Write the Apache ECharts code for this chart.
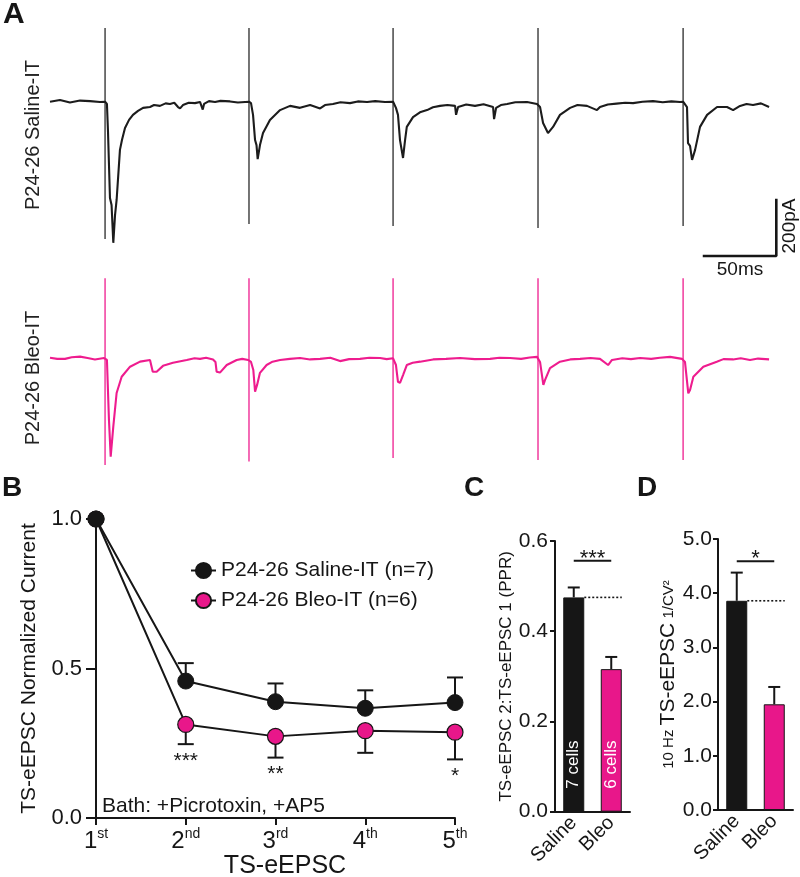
<!DOCTYPE html>
<html><head><meta charset="utf-8">
<script src="https://cdn.jsdelivr.net/npm/echarts/dist/echarts.min.js"></script>
<style>html,body{margin:0;padding:0;background:#fff}#c{width:800px;height:877px}</style>
</head><body><div id="c"></div>
<script>
// ---------------- DATA ----------------
// Panel A: traces, time in ms, current in pA (0 = baseline)
const stimTimes = [38.1, 137.7, 237.4, 337.7, 438.1];
const salineArtTop = [263, 263, 263, 263, 263];
const salineArtBottom = [-490, -437, -444, -451, -444];
const bleoArtTop = [286, 286, 286, 286, 286];
const bleoArtBottom = [-381, -369, -356, -363, -363];
const salineTrace = [
[0,0],[6.9,6],[13.8,-3],[20.8,4],[27.7,2],[34.6,-1],[38.1,0],
[39.4,-8],[40.1,-101],[41.5,-344],[42.6,-369],[43.8,-504],[45,-405],[46.1,-351],[48.4,-172],[49.8,-137],[51.9,-94],[54.7,-65],[57.4,-47],[60.9,-33],[64.4,-22],[69.2,-19],[72,-12],[76.1,-15],[80,-6],[83,-8],[86,-4],[88.6,-19],[90,-24],[92,-12],[96,-4],[100.3,-5],[103.8,-1],[105.7,-28],[106.6,-8],[110,2],[114.2,-1],[118,3],[124.6,1],[130,-3],[135,-1],[137.7,0],
[139.1,-5],[140.5,-47],[141.9,-137],[142.9,-155],[143.7,-205],[145.3,-155],[147.4,-112],[152.2,-65],[159.2,-30],[166.1,-15],[173,-22],[180,-12],[186.9,-24],[190.3,-12],[195.8,-8],[201,-2],[207.6,-5],[213,1],[219.4,-1],[225,2],[231.8,-1],[237.4,0],
[239.4,-22],[240.8,-47],[242.2,-137],[244.3,-201],[245.7,-137],[246.9,-90],[251.2,-55],[256,-38],[260.9,-30],[265,-20],[269.9,-15],[275,-12],[280.3,-15],[281,-47],[282.4,-19],[288,-10],[294.1,-15],[300,-9],[306.6,-19],[307.3,-62],[308.7,-22],[312,-12],[316.3,-8],[322,-2],[330.1,-1],[337,-8],
[339.1,-19],[341.2,-76],[344.6,-112],[348.1,-90],[352.9,-47],[359.9,-22],[365,-12],[371.6,-15],[378.5,-30],[380.6,-19],[386,-10],[392,-7],[398,-4],[403.5,-5],[410,0],[417.3,2],[424,-2],[430,1],[436,-1],[438.1,0],
[440.8,-19],[441.5,-148],[442.9,-158],[444.3,-208],[446.4,-172],[449.8,-90],[454.7,-47],[461.6,-19],[468.5,-19],[472.7,-30],[477.5,-15],[482,-8],[486.5,-12],[492,-6],[497.6,-19]
];
const bleoTrace = [
[0,2],[5,-2],[10.4,-2],[15,4],[20.8,6],[26,1],[31.1,-4],[37.4,1],[38.1,0],
[39.4,-6],[40.8,-220],[42,-351],[43.8,-244],[46.1,-124],[49.6,-66],[55.4,-30],[62.3,-12],[69.2,-6],[71.1,-48],[73.8,-48],[78.2,-27],[85.1,-16],[94.6,-6],[100,0],[103.8,-2],[108,2],[112.8,-4],[114.5,-13],[115.3,-48],[117.6,-51],[122.3,-24],[129.2,-6],[133,-2],[137.2,-6],
[139.1,-13],[140.7,-42],[141.9,-119],[143.3,-95],[145.3,-52],[149.9,-24],[154,-12],[159.2,-6],[166,-2],[173,1],[180,-4],[186.9,-2],[194,2],[200.7,-10],[207,-3],[214.5,-2],[221,2],[228.4,1],[233,-3],[237.4,0],
[239.4,-24],[240.8,-84],[242.2,-88],[244.3,-60],[246.9,-24],[251,-16],[256.1,-12],[265.1,-4],[274,-2],[283.7,1],[294,-3],[304.5,-2],[311,2],[318.3,1],[326,-2],[332,3],[337,5],
[339.1,-13],[341.4,-95],[342.6,-77],[346,-35],[352.9,-12],[360,-4],[366.8,-2],[374,1],[380.6,-2],[386.2,-24],[388.9,-6],[396,0],[402,-3],[408.3,1],[416,-2],[422,2],[429.1,5],[437.4,-2],
[439.4,-13],[441.7,-125],[442.9,-113],[445.2,-66],[452.1,-30],[461.4,-12],[466,-3],[472.7,-4],[478,0],[484.4,-6],[490,-1],[497.6,-4]
];
const scaleBarMs = 50;
const scaleBarPA = 200;
const scaleBarOrigin = [452.6, -551];

// Panel B
const bOrdinals = ['1', '2', '3', '4', '5'];
const bSuffixes = ['st', 'nd', 'rd', 'th', 'th'];
const salineMean = [1.0, 0.458, 0.389, 0.367, 0.386];
const salineSem  = [0, 0.06, 0.061, 0.06, 0.084];
const bleoMean   = [1.0, 0.313, 0.273, 0.292, 0.287];
const bleoSem    = [0, 0.066, 0.071, 0.074, 0.091];
const bSig = ['', '***', '**', '', '*'];

// Panel C
const groups = ['Saline', 'Bleo'];
const cMean = [0.475, 0.316];
const cSem = [0.022, 0.027];
const cCells = ['7 cells', '6 cells'];
const cSigLevel = 0.556, cSigText = '***';

// Panel D
const dMean = [3.86, 1.95];
const dSem = [0.52, 0.32];
const dSigLevel = 4.59, dSigText = '*';

// ---------------- STYLE ----------------
const FONT = "'Liberation Sans', Arial, Helvetica, sans-serif";
const INK = '#161616';
const PINK = '#e8178a';
const PINK_TRACE = '#ee1c8e';

const chart = echarts.init(document.getElementById('c'), null, {renderer: 'canvas'});

function errBar(capHalf, color) {
  return function (params, api) {
    const x = api.value(0), m = api.value(1), e = api.value(2);
    const p0 = api.coord([x, m]), p1 = api.coord([x, e]);
    return {type: 'group', children: [
      {type: 'line', shape: {x1: p0[0], y1: p0[1], x2: p1[0], y2: p1[1]}, style: {stroke: color, lineWidth: 2}},
      {type: 'line', shape: {x1: p1[0] - capHalf, y1: p1[1], x2: p1[0] + capHalf, y2: p1[1]}, style: {stroke: color, lineWidth: 2}}
    ]};
  };
}
function artifact(color) {
  return function (params, api) {
    const a = api.coord([api.value(0), api.value(1)]);
    const b = api.coord([api.value(0), api.value(2)]);
    return {type: 'line', shape: {x1: a[0], y1: a[1], x2: b[0], y2: b[1]}, style: {stroke: color, lineWidth: 1.3}};
  };
}
function sigBar(text) {
  return function (params, api) {
    const a = api.coord([0, api.value(1)]);
    const b = api.coord([1, api.value(1)]);
    return {type: 'group', children: [
      {type: 'line', shape: {x1: a[0], y1: a[1], x2: b[0], y2: b[1]}, style: {stroke: INK, lineWidth: 2}},
      {type: 'text', x: (a[0] + b[0]) / 2, y: a[1] - 2, style: {text: text, fontSize: 22, fontFamily: FONT, fill: INK, textAlign: 'center', textVerticalAlign: 'middle'}}
    ]};
  };
}
function dotted(barW) {
  return function (params, api) {
    const a = api.coord([0, api.value(1)]);
    const b = api.coord([1, api.value(1)]);
    return {type: 'line', shape: {x1: a[0] + barW / 2, y1: a[1], x2: b[0] + barW / 2, y2: b[1]}, style: {stroke: INK, lineWidth: 1.6, lineDash: [2, 2]}};
  };
}

const hiddenAxis = (gi, min, max) => ({gridIndex: gi, type: 'value', min: min, max: max, show: false});
const oneDec = v => v.toFixed(1);

const starData = [], starText = [];
bSig.forEach((s, i) => { if (s) { starData.push([i + 1, bleoMean[i] - bleoSem[i]]); starText.push(s); } });

const option = {
  animation: false,
  textStyle: {fontFamily: FONT, color: INK},
  grid: [
    {left: 50, top: 23.3, width: 737, height: 235.2, outerBoundsMode: 'none'},
    {left: 50, top: 279.9, width: 737, height: 235.2, outerBoundsMode: 'none'},
    {left: 96, top: 519, width: 359, height: 299, outerBoundsMode: 'none'},
    {left: 555, top: 541, width: 75, height: 270.7, outerBoundsMode: 'none'},
    {left: 718, top: 539, width: 75, height: 271, outerBoundsMode: 'none'}
  ],
  xAxis: [
    hiddenAxis(0, 0, 510),
    hiddenAxis(1, 0, 510),
    {gridIndex: 2, type: 'value', min: 1, max: 5, interval: 1,
     axisLine: {show: true, onZero: false, lineStyle: {color: INK, width: 2}},
     axisTick: {show: true, length: 7, lineStyle: {color: INK, width: 2}},
     splitLine: {show: false},
     axisLabel: {margin: 9, formatter: v => '{b|' + bOrdinals[v - 1] + '}{s|' + bSuffixes[v - 1] + '}',
       rich: {b: {fontSize: 24, color: INK, fontFamily: FONT, lineHeight: 28},
              s: {fontSize: 14, color: INK, fontFamily: FONT, verticalAlign: 'top', lineHeight: 16}}},
     name: 'TS-eEPSC', nameLocation: 'middle', nameGap: 36,
     nameTextStyle: {fontSize: 25, color: INK, fontFamily: FONT, padding: [0, 0, 0, 19]}},
    {gridIndex: 3, type: 'category', data: groups,
     axisLine: {show: true, onZero: false, lineStyle: {color: INK, width: 2}},
     axisTick: {show: false},
     axisLabel: {rotate: 45, fontSize: 20, color: INK, margin: 8, interval: 0}},
    {gridIndex: 4, type: 'category', data: groups,
     axisLine: {show: true, onZero: false, lineStyle: {color: INK, width: 2}},
     axisTick: {show: false},
     axisLabel: {rotate: 45, fontSize: 20, color: INK, margin: 8, interval: 0}}
  ],
  yAxis: [
    hiddenAxis(0, -560, 280),
    hiddenAxis(1, -560, 280),
    {gridIndex: 2, type: 'value', min: 0, max: 1, interval: 0.5,
     axisLine: {show: true, onZero: false, lineStyle: {color: INK, width: 2}},
     axisTick: {show: true, length: 10, lineStyle: {color: INK, width: 2}},
     splitLine: {show: false},
     axisLabel: {fontSize: 22, color: INK, margin: 14, formatter: oneDec},
     name: 'TS-eEPSC Normalized Current', nameLocation: 'middle', nameGap: 56, nameRotate: 90,
     nameTextStyle: {fontSize: 21, color: INK, fontFamily: FONT}},
    {gridIndex: 3, type: 'value', min: 0, max: 0.6, interval: 0.2,
     axisLine: {show: true, onZero: false, lineStyle: {color: INK, width: 2}},
     axisTick: {show: true, length: 5, lineStyle: {color: INK, width: 2}},
     splitLine: {show: false},
     axisLabel: {fontSize: 21, color: INK, margin: 7, formatter: oneDec},
     name: 'TS-eEPSC 2:TS-eEPSC 1 (PPR)', nameLocation: 'middle', nameGap: 37, nameRotate: 90,
     nameTextStyle: {fontSize: 17, color: INK, fontFamily: FONT}},
    {gridIndex: 4, type: 'value', min: 0, max: 5, interval: 1,
     axisLine: {show: true, onZero: false, lineStyle: {color: INK, width: 2}},
     axisTick: {show: true, length: 5, lineStyle: {color: INK, width: 2}},
     splitLine: {show: false},
     axisLabel: {fontSize: 21, color: INK, margin: 6, formatter: oneDec},
     name: '{s|10 Hz }{b|TS-eEPSC}{s| 1/CV²}', nameLocation: 'middle', nameGap: 35, nameRotate: 90,
     nameTextStyle: {color: INK, fontFamily: FONT,
       rich: {s: {fontSize: 15, color: INK, fontFamily: FONT}, b: {fontSize: 21, color: INK, fontFamily: FONT}}}}
  ],
  legend: {
    data: ['P24-26 Saline-IT (n=7)', 'P24-26 Bleo-IT (n=6)'],
    orient: 'vertical', left: 185, top: 555, itemWidth: 25, itemHeight: 19, itemGap: 9,
    selectedMode: false,
    textStyle: {fontSize: 21, color: INK, fontFamily: FONT}
  },
  graphic: [
    {type: 'text', x: 3, y: 15, style: {text: 'A', fontSize: 30, fontWeight: 'bold', fontFamily: FONT, fill: INK, textVerticalAlign: 'middle'}},
    {type: 'text', x: 2, y: 488, style: {text: 'B', fontSize: 28, fontWeight: 'bold', fontFamily: FONT, fill: INK, textVerticalAlign: 'middle'}},
    {type: 'text', x: 464, y: 488, style: {text: 'C', fontSize: 28, fontWeight: 'bold', fontFamily: FONT, fill: INK, textVerticalAlign: 'middle'}},
    {type: 'text', x: 637, y: 488, style: {text: 'D', fontSize: 28, fontWeight: 'bold', fontFamily: FONT, fill: INK, textVerticalAlign: 'middle'}},
    {type: 'text', x: 33, y: 135, rotation: Math.PI / 2, style: {text: 'P24-26 Saline-IT', fontSize: 20, fontFamily: FONT, fill: '#222', textAlign: 'center', textVerticalAlign: 'middle'}},
    {type: 'text', x: 33, y: 378, rotation: Math.PI / 2, style: {text: 'P24-26 Bleo-IT', fontSize: 20, fontFamily: FONT, fill: '#222', textAlign: 'center', textVerticalAlign: 'middle'}},
    {type: 'text', x: 740, y: 270, style: {text: scaleBarMs + 'ms', fontSize: 19, fontFamily: FONT, fill: INK, textAlign: 'center', textVerticalAlign: 'middle'}},
    {type: 'text', x: 790, y: 226, rotation: Math.PI / 2, style: {text: scaleBarPA + 'pA', fontSize: 19, fontFamily: FONT, fill: INK, textAlign: 'center', textVerticalAlign: 'middle'}},
    {type: 'text', x: 102, y: 806, style: {text: 'Bath: +Picrotoxin, +AP5', fontSize: 21, fontFamily: FONT, fill: INK, textVerticalAlign: 'middle'}}
  ],
  series: [
    // Panel A
    {type: 'custom', name: 'salineArt', xAxisIndex: 0, yAxisIndex: 0, silent: true,
     data: stimTimes.map((t, i) => [t, salineArtTop[i], salineArtBottom[i]]), renderItem: artifact('#2a2a2a')},
    {type: 'line', name: 'salineTrace', xAxisIndex: 0, yAxisIndex: 0, data: salineTrace, showSymbol: false, symbol: 'none', silent: true,
     lineStyle: {color: '#1c1c1c', width: 2.1}},
    {type: 'line', name: 'scaleBar', xAxisIndex: 0, yAxisIndex: 0, showSymbol: false, symbol: 'none', silent: true,
     data: [[scaleBarOrigin[0], scaleBarOrigin[1]], [scaleBarOrigin[0] + scaleBarMs, scaleBarOrigin[1]], [scaleBarOrigin[0] + scaleBarMs, scaleBarOrigin[1] + scaleBarPA]],
     lineStyle: {color: INK, width: 2.6, cap: 'square'}},
    {type: 'custom', name: 'bleoArt', xAxisIndex: 1, yAxisIndex: 1, silent: true,
     data: stimTimes.map((t, i) => [t, bleoArtTop[i], bleoArtBottom[i]]), renderItem: artifact(PINK_TRACE)},
    {type: 'line', name: 'bleoTrace', xAxisIndex: 1, yAxisIndex: 1, data: bleoTrace, showSymbol: false, symbol: 'none', silent: true,
     lineStyle: {color: PINK_TRACE, width: 2.1}},
    // Panel B
    {type: 'custom', name: 'salineErr', xAxisIndex: 2, yAxisIndex: 2, z: 1,
     data: salineMean.map((m, i) => [i + 1, m, m + salineSem[i]]).filter((d, i) => salineSem[i] > 0), renderItem: errBar(8, INK)},
    {type: 'custom', name: 'bleoErr', xAxisIndex: 2, yAxisIndex: 2, z: 1,
     data: bleoMean.map((m, i) => [i + 1, m, m - bleoSem[i]]).filter((d, i) => bleoSem[i] > 0), renderItem: errBar(8, INK)},
    {type: 'line', name: 'P24-26 Bleo-IT (n=6)', xAxisIndex: 2, yAxisIndex: 2, z: 3,
     data: bleoMean.map((m, i) => [i + 1, m]), symbol: 'circle', symbolSize: 16,
     itemStyle: {color: PINK, borderColor: INK, borderWidth: 1.2}, lineStyle: {color: INK, width: 2}},
    {type: 'line', name: 'P24-26 Saline-IT (n=7)', xAxisIndex: 2, yAxisIndex: 2, z: 4,
     data: salineMean.map((m, i) => [i + 1, m]), symbol: 'circle', symbolSize: 16,
     itemStyle: {color: INK, borderColor: INK, borderWidth: 1}, lineStyle: {color: INK, width: 2}},
    {type: 'custom', name: 'bStars', xAxisIndex: 2, yAxisIndex: 2, z: 5, data: starData,
     renderItem: (params, api) => {
       const p = api.coord([api.value(0), api.value(1)]);
       return {type: 'text', x: p[0], y: p[1] + 17, style: {text: starText[params.dataIndex], fontSize: 21, fontFamily: FONT, fill: INK, textAlign: 'center', textVerticalAlign: 'middle'}};
     }},
    // Panel C
    {type: 'bar', name: 'cBars', xAxisIndex: 3, yAxisIndex: 3, barWidth: 21,
     data: cMean.map((m, i) => ({value: m, itemStyle: {color: i === 0 ? INK : PINK, borderColor: INK, borderWidth: 1}})),
     label: {show: true, position: 'insideBottom', distance: 23, rotate: 90, align: 'left', verticalAlign: 'middle',
             color: '#fff', fontSize: 17, fontFamily: FONT, formatter: p => cCells[p.dataIndex]}},
    {type: 'custom', name: 'cErr', xAxisIndex: 3, yAxisIndex: 3, z: 3,
     data: cMean.map((m, i) => [i, m, m + cSem[i]]), renderItem: errBar(6, INK)},
    {type: 'custom', name: 'cDot', xAxisIndex: 3, yAxisIndex: 3, z: 3,
     data: [[0, cMean[0]]], renderItem: dotted(21)},
    {type: 'custom', name: 'cSig', xAxisIndex: 3, yAxisIndex: 3, z: 3,
     data: [[0, cSigLevel]], renderItem: sigBar(cSigText)},
    // Panel D
    {type: 'bar', name: 'dBars', xAxisIndex: 4, yAxisIndex: 4, barWidth: 21,
     data: dMean.map((m, i) => ({value: m, itemStyle: {color: i === 0 ? INK : PINK, borderColor: INK, borderWidth: 1}}))},
    {type: 'custom', name: 'dErr', xAxisIndex: 4, yAxisIndex: 4, z: 3,
     data: dMean.map((m, i) => [i, m, m + dSem[i]]), renderItem: errBar(6, INK)},
    {type: 'custom', name: 'dDot', xAxisIndex: 4, yAxisIndex: 4, z: 3,
     data: [[0, dMean[0]]], renderItem: dotted(21)},
    {type: 'custom', name: 'dSig', xAxisIndex: 4, yAxisIndex: 4, z: 3,
     data: [[0, dSigLevel]], renderItem: sigBar(dSigText)}
  ]
};
chart.setOption(option);
</script></body></html>
